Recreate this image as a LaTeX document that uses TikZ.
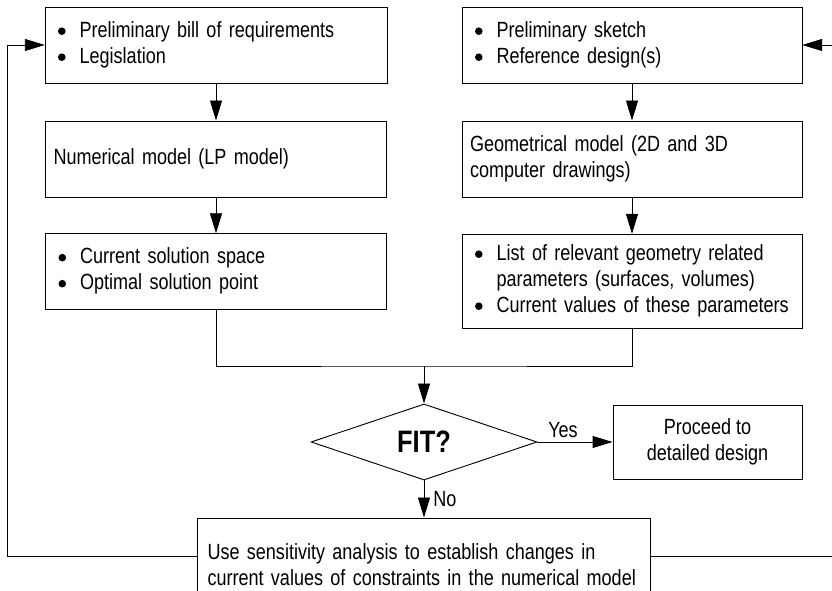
\documentclass[tikz,border=0pt]{standalone}
\usepackage{fontspec}
\setmainfont{Liberation Sans}[FakeStretch=0.82]
\usetikzlibrary{arrows.meta,positioning,shapes.geometric}

\newcommand{\bdot}{\tikz[baseline=-6pt]\fill (0,0) circle (3.8pt);}
\newcommand{\bullist}[1]{\begin{tabular}{@{\hspace{5pt}}l@{\hspace{14pt}}l@{}}#1\end{tabular}}

\begin{document}
\begin{tikzpicture}[x=1pt,y=1pt,line width=0.9pt,>={Triangle[length=20pt,width=12pt]},
  box/.style={draw,inner xsep=8pt,align=left,minimum height=76pt,font=\fontsize{22}{26}\selectfont},
  lbl/.style={font=\fontsize{22}{26}\selectfont}]
\useasboundingbox (0,0) rectangle (832,591);
\clip (0,0) rectangle (832,591);
\node[box,text width=326pt] (n1) at (216,546) {\bullist{\bdot & Preliminary bill of requirements\\ \bdot & Legislation}};
\node[box,text width=324pt] (n2) at (632,546) {\bullist{\bdot & Preliminary sketch\\ \bdot & Reference design(s)}};
\node[box,text width=325pt] (n3) at (216,432) {Numerical model (LP model)};
\node[box,text width=324pt] (n4) at (632,432) {Geometrical model (2D and 3D\\computer drawings)};
\node[box,text width=325pt] (n5) at (216,319.5) {\bullist{\bdot & Current solution space\\ \bdot & Optimal solution point}};
\node[box,text width=324pt,minimum height=94pt] (n6) at (632,310) {\bullist{\bdot & List of relevant geometry related\\ & parameters (surfaces, volumes)\\ \bdot & Current values of these parameters}};
\node[draw,diamond,aspect=2.97,minimum width=226pt,minimum height=76pt,inner sep=0pt,font=\bfseries\fontsize{31}{36}\selectfont] (fit) at (424,149) {FIT?};
\node[box,align=center,minimum width=189pt,minimum height=74pt] (n7) at (707.5,149) {Proceed to\\detailed design};
\node[box,inner xsep=10pt,text width=433pt,minimum height=94pt] (n8) at (424,26) {Use sensitivity analysis to establish changes in\\current values of constraints in the numerical model};
\coordinate (j) at (424,225);
\coordinate (l) at (7,35);
\coordinate (r) at (850,35);
\draw[->] (n1) -- (n3);
\draw[->] (n2) -- (n4);
\draw[->] (n3) -- (n5);
\draw[->] (n4) -- (n6);
\draw (n5) |- (j) -| (n6);
\draw[->] (j) -- (fit);
\draw[->] (fit) -- node[lbl,pos=0.34,above] {Yes} (n7);
\draw[->] (fit) -- node[lbl,right,inner xsep=9pt] {No} (n8);
\draw[->] (n8.west |- l) -- (l) |- (n1);
\draw[->] (n8.east |- r) -- (r) |- (n2);
\end{tikzpicture}
\end{document}
